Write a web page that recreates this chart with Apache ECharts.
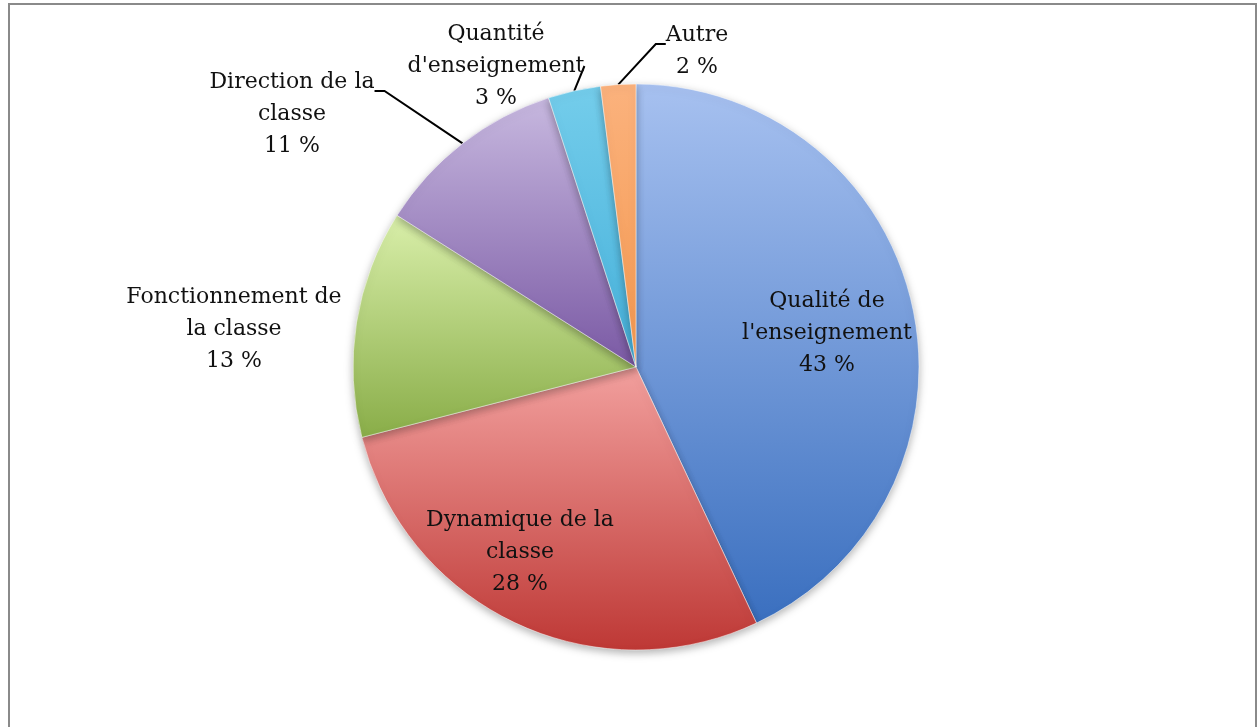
<!DOCTYPE html>
<html>
<head>
<meta charset="utf-8">
<script src="https://cdn.jsdelivr.net/npm/echarts@6/dist/echarts.min.js"></script>
<style>
  html, body { margin: 0; padding: 0; background: #fff; }
  #chart_con { width: 1258px; height: 727px; }
</style>
</head>
<body>
<div id="chart_con"></div>
<script>
  // categories (clockwise from 12 o'clock) and their shares in %
  var categories = [
    "Qualité de\nl'enseignement",
    'Dynamique de la\nclasse',
    'Fonctionnement de\nla classe',
    'Direction de la\nclasse',
    'Quantité\nd\'enseignement',
    'Autre'
  ];
  var shares = [43, 28, 13, 11, 3, 2];

  // top / bottom colour of each slice gradient
  var topColors = ['#a7c1f0', '#f2a09e', '#d9efaa', '#c7b8df', '#74cdeb', '#fbb27d'];
  var bottomColors = ['#3a6fbf', '#be3835', '#89ad48', '#7a59a4', '#45b0da', '#f4984f'];

  // label box placement (centre of the box); "lead" is an empty spacer line on top
  // so the leader line hooks onto the first text line like in the original
  var labelPos = [
    { x: 827, y: 333, lead: 0 },
    { x: 520, y: 552, lead: 0 },
    { x: 234, y: 329, lead: 0 },
    { x: 292, y: 74, lead: 80 },
    { x: 496, y: 66, lead: 0 },
    { x: 697, y: 43, lead: 16 }
  ];
  var insideLabel = [true, true, false, false, false, false];

  var data = categories.map(function (name, i) {
    return {
      name: name,
      value: shares[i],
      itemStyle: {
        color: {
          type: 'linear', x: 0, y: 0, x2: 0, y2: 1,
          colorStops: [
            { offset: 0, color: topColors[i] },
            { offset: 1, color: bottomColors[i] }
          ]
        }
      },
      label: { position: insideLabel[i] ? 'inside' : 'outside' },
      labelLine: { show: i >= 3 }
    };
  });

  var txt = { fontFamily: 'DejaVu Serif', fontSize: 22, lineHeight: 32, color: '#111', align: 'center' };

  var option = {
    animation: false,
    graphic: [{
      type: 'rect',
      shape: { x: 9, y: 4, width: 1247, height: 740 },
      style: { fill: 'none', stroke: '#8a8a8a', lineWidth: 2 },
      silent: true
    }],
    series: [{
      type: 'pie',
      center: [636, 367],
      radius: [0, 283],
      startAngle: 90,
      clockwise: true,
      itemStyle: {
        borderColor: 'rgba(255,255,255,0.5)',
        borderWidth: 1,
        shadowBlur: 8,
        shadowOffsetY: 3,
        shadowColor: 'rgba(0,0,0,0.3)'
      },
      label: {
        formatter: function (p) {
          var lines = (p.name + '\n' + p.value + ' %').split('\n').map(function (l) {
            return '{t|' + l + '}';
          });
          var lead = labelPos[p.dataIndex].lead;
          if (lead) lines.unshift('{s' + lead + '| }');
          return lines.join('\n');
        },
        align: 'center',
        rich: {
          t: txt,
          s80: { fontSize: 2, lineHeight: 80 },
          s16: { fontSize: 2, lineHeight: 16 }
        }
      },
      labelLine: {
        length: 20,
        length2: 10,
        lineStyle: { color: '#000', width: 2 }
      },
      labelLayout: function (p) {
        var pos = labelPos[p.dataIndex];
        return { x: pos.x, y: pos.y, align: 'center', verticalAlign: 'middle' };
      },
      emphasis: { disabled: true },
      data: data
    }]
  };

  var chart = echarts.init(document.getElementById('chart_con'));
  chart.setOption(option);
  window.addEventListener('resize', function () {
    chart.resize();
  });
</script>
</body>
</html>
